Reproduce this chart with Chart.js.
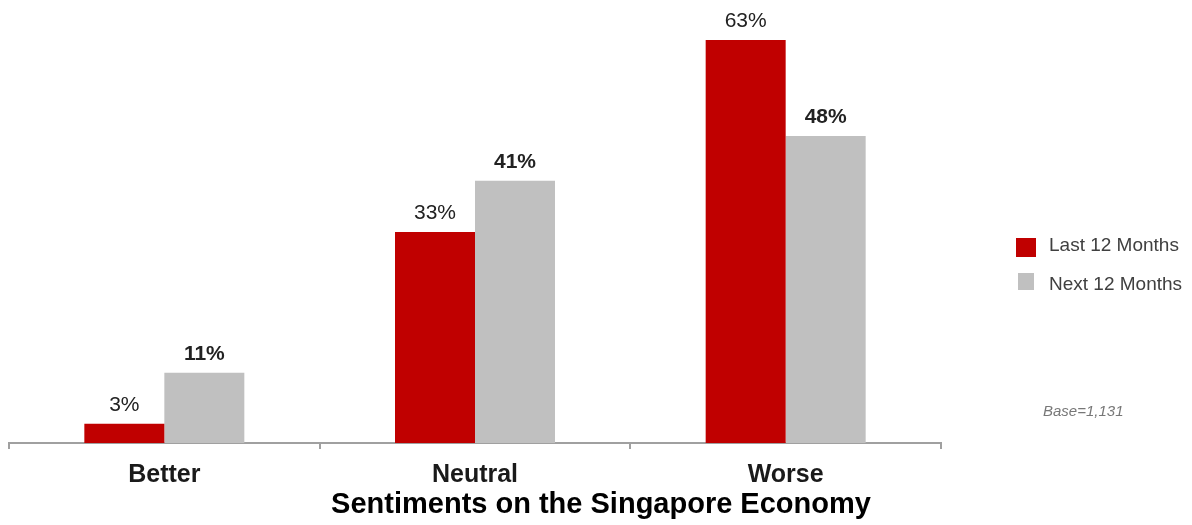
<!DOCTYPE html>
<html>
<head>
<meta charset="utf-8">
<script src="https://cdn.jsdelivr.net/npm/chart.js@4.4.1/dist/chart.umd.min.js"></script>
<style>
  html, body { margin: 0; padding: 0; background: #fff; }
  #wrap { width: 1192px; height: 525px; }
</style>
</head>
<body>
<div id="wrap"><canvas id="chart" width="1192" height="525"></canvas></div>
<script>
const categories = ["Better", "Neutral", "Worse"]
const lastMonths = [3, 33, 63]
const nextMonths = [11, 41, 48]
const seriesNames = ["Last 12 Months", "Next 12 Months"]
const chartTitle = "Sentiments on the Singapore Economy"
const baseNote = "Base=1,131"

const FONT = "'Liberation Sans', Arial, sans-serif"

// value labels above bars, red ones plain, grey ones bold
const valueLabels = {
  id: "valueLabels",
  afterDatasetsDraw(chart) {
    const ctx = chart.ctx
    ctx.save()
    ctx.textAlign = "center"
    ctx.textBaseline = "alphabetic"
    ctx.fillStyle = "#222"
    chart.data.datasets.forEach((ds, i) => {
      const meta = chart.getDatasetMeta(i)
      ctx.font = (i === 1 ? "bold " : "") + "21px " + FONT
      meta.data.forEach((bar, j) => {
        ctx.fillText(ds.data[j] + "%", bar.x, bar.y - 13)
      })
    })
    ctx.restore()
  },
}

// legend, title and base note
const extras = {
  id: "extras",
  afterDraw(chart) {
    const ctx = chart.ctx
    ctx.save()
    const ds = chart.data.datasets
    ctx.fillStyle = ds[0].backgroundColor
    ctx.fillRect(1016, 238, 20, 19)
    ctx.fillStyle = ds[1].backgroundColor
    ctx.fillRect(1018, 273, 16, 17)
    ctx.fillStyle = "#404040"
    ctx.font = "19px " + FONT
    ctx.textAlign = "left"
    ctx.textBaseline = "middle"
    ctx.fillText(ds[0].label, 1049, 246)
    ctx.fillText(ds[1].label, 1049, 285)

    ctx.fillStyle = "#777"
    ctx.font = "italic 15px " + FONT
    ctx.fillText(baseNote, 1043, 412)

    ctx.fillStyle = "#000"
    ctx.font = "bold 29px " + FONT
    ctx.textAlign = "center"
    ctx.textBaseline = "alphabetic"
    ctx.fillText(chartTitle, 601, 513)
    ctx.restore()
  },
}

new Chart(document.getElementById("chart"), {
  type: "bar",
  data: {
    labels: categories,
    datasets: [
      { label: seriesNames[0], data: lastMonths, backgroundColor: "#C00000" },
      { label: seriesNames[1], data: nextMonths, backgroundColor: "#C0C0C0" },
    ],
  },
  options: {
    responsive: false,
    animation: false,
    events: [],
    layout: { padding: { left: 9, right: 251, top: 8, bottom: 32 } },
    categoryPercentage: 0.515,
    barPercentage: 1,
    plugins: { legend: { display: false }, tooltip: { enabled: false } },
    scales: {
      x: {
        offset: true,
        afterFit(scale) { scale.height = 50 },
        border: { color: "#A0A0A0", width: 2 },
        grid: { offset: true, drawOnChartArea: false, tickLength: 6, color: "#A0A0A0", lineWidth: 2 },
        ticks: { color: "#1a1a1a", font: { family: FONT, size: 25, weight: "bold" }, padding: 11 },
      },
      y: { display: false, min: 0, max: 68 },
    },
  },
  plugins: [valueLabels, extras],
})
</script>
</body>
</html>
